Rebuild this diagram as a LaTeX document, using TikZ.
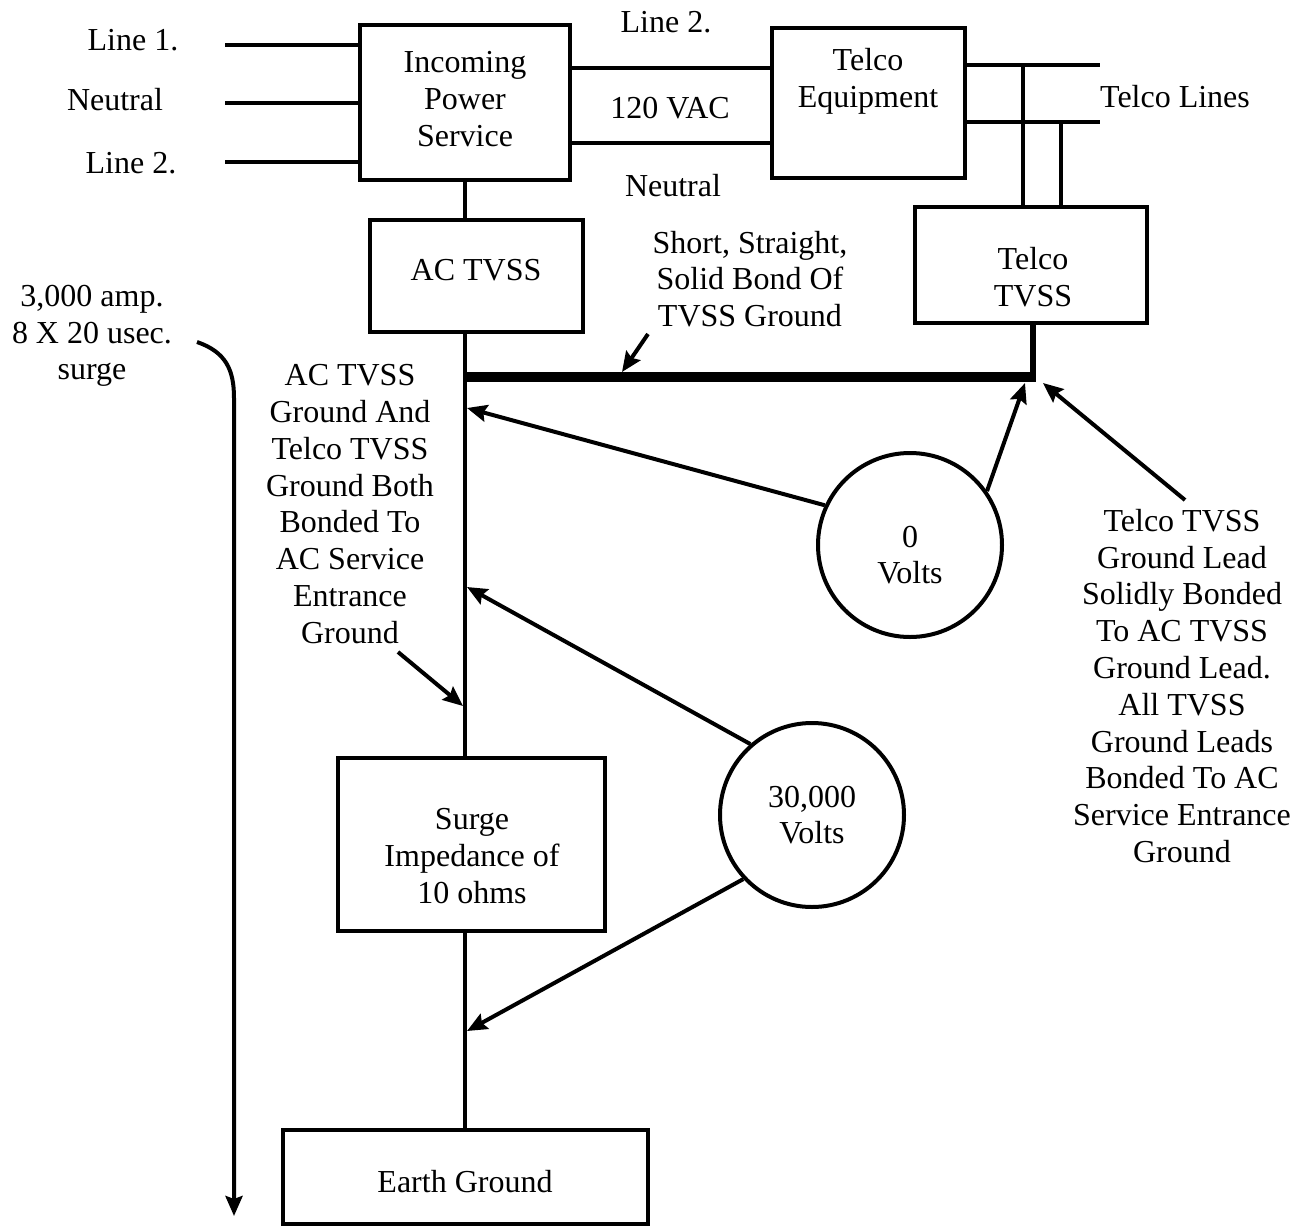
\documentclass[tikz,border=0pt]{standalone}
\usepackage{fontspec}
\setmainfont{Liberation Serif}
\usetikzlibrary{positioning,calc,arrows.meta}

\begin{document}
\begin{tikzpicture}[x=1pt,y=-1pt,line width=4pt,
	every node/.style={font=\fontsize{32}{36.8}\selectfont},
	blk/.style={draw,line width=4pt,inner sep=0pt},
	lbl/.style={align=center,inner sep=0pt},
	volt/.style={draw,circle,line width=4pt,minimum size=184pt,align=center,inner sep=0pt},
	>={Stealth[length=20pt,width=17pt,inset=3pt]}]
	\useasboundingbox (0,0) rectangle (1304,1226);
%	\draw[lightgray,line width=.2pt] (0,0) grid[step=100] (1300,1200);
	% boxes
	\node[blk,minimum width=210,minimum height=155] (power) at (465,102) {};
	\node[lbl] (powertxt) at (465,99) {Incoming\\Power\\Service};
	\node[blk,minimum width=193,minimum height=150] (telcoeq) at (868,103) {};
	\node[lbl] (telcoeqtxt) at (868,81) {Telco\\Equipment};
	\node[blk,minimum width=232,minimum height=116] (telcotvss) at (1031,265) {};
	\node[lbl] (telcotvsstxt) at (1033,277) {Telco\\TVSS};
	\node[blk,minimum width=213,minimum height=112] (actvss) at (476,276) {};
	\node[lbl] (actvsstxt) at (476,270) {AC TVSS};
	\node[blk,minimum width=267,minimum height=173] (surge) at (471,844) {};
	\node[lbl] (surgetxt) at (472,856) {Surge\\Impedance of\\10 ohms};
	\node[blk,minimum width=365,minimum height=94] (earth) at (465,1177) {};
	\node[lbl] (earthtxt) at (465,1182) {Earth Ground};
	\node[volt] (zero) at (910,545) {};
	\node[lbl] (zerotxt) at (910,555) {0\\Volts};
	\node[volt] (thirty) at (812,815) {30,000\\Volts};
	% labels
	\node[lbl] (line1) at (133,40) {Line 1.};
	\node[lbl] (neutral) at (115,100) {Neutral};
	\node[lbl] (line2) at (131,163) {Line 2.};
	\node[lbl] (topline2) at (666,22) {Line 2.};
	\node[lbl] (vac) at (670,108) {120 VAC};
	\node[lbl] (botneutral) at (673,186) {Neutral};
	\node[lbl] (telcolines) at (1175,97) {Telco Lines};
	\node[lbl] (surgelbl) at (92,336) {3,000 amp.\\8 X 20 usec.\\surge};
	\node[lbl] (bondlbl) at (750,279) {Short, Straight,\\Solid Bond Of\\TVSS Ground};
	\node[lbl] (gndlbl) at (350,504) {AC TVSS\\Ground And\\Telco TVSS\\Ground Both\\Bonded To\\AC Service\\Entrance\\Ground};
	\node[lbl] (telcolbl) at (1182,686) {Telco TVSS\\Ground Lead\\Solidly Bonded\\To AC TVSS\\Ground Lead.\\All TVSS\\Ground Leads\\Bonded To AC\\Service Entrance\\Ground};
	% free ends
	\coordinate (l1) at (225,45);
	\coordinate (l2) at (225,103);
	\coordinate (l3) at (225,162);
	\coordinate (tl1) at (1100,65);
	\coordinate (tl2) at (1100,122);
	\coordinate (busL) at (465,377);
	\coordinate (busR) at (1033,377);
	\coordinate (g1) at (467,408);
	\coordinate (g2) at (1025,383);
	\coordinate (g3) at (467,587);
	\coordinate (g4) at (467,1031);
	\coordinate (g5) at (463,706);
	\coordinate (g6) at (622,372);
	\coordinate (g7) at (1043,383);
	\coordinate (s0) at (197,342);
	\coordinate (s1) at (234,1216);
	% wiring
	\draw (l1) -- (l1 -| power.west);
	\draw (l2) -- (l2 -| power.west);
	\draw (l3) -- (l3 -| power.west);
	\draw (power.east |- 0,68) -- (telcoeq.west |- 0,68);
	\draw (power.east |- 0,143) -- (telcoeq.west |- 0,143);
	\draw (telcoeq.east |- tl1) -- (tl1);
	\draw (telcoeq.east |- tl2) -- (tl2);
	\draw (telcotvss.north -| 1023,0) -- (1023,65);
	\draw (telcotvss.north -| 1061,0) -- (1061,122);
	\draw (power.south) -- (power.south |- actvss.north);
	\draw (power.south |- actvss.south) -- (power.south |- surge.north);
	\draw (power.south |- surge.south) -- (power.south |- earth.north);
	\draw[line width=10pt] (busL) -- (busR);
	\draw[line width=6pt] (telcotvss.south -| busR) -- ($(busR)+(0,5)$);
	% arrows
	\draw[->] (zero.155) -- (g1);
	\draw[->] (zero.35) -- (g2);
	\draw[->] (thirty.131) -- (g3);
	\draw[->] (thirty.223) -- (g4);
	\draw[->] (398,652) -- (g5);
	\draw[->] (648,334) -- (g6);
	\draw[->] (1185,500) -- (g7);
	\draw[->] (s0) .. controls (226,352) and (234,370) .. (234,398) -- (s1);
\end{tikzpicture}
\end{document}
